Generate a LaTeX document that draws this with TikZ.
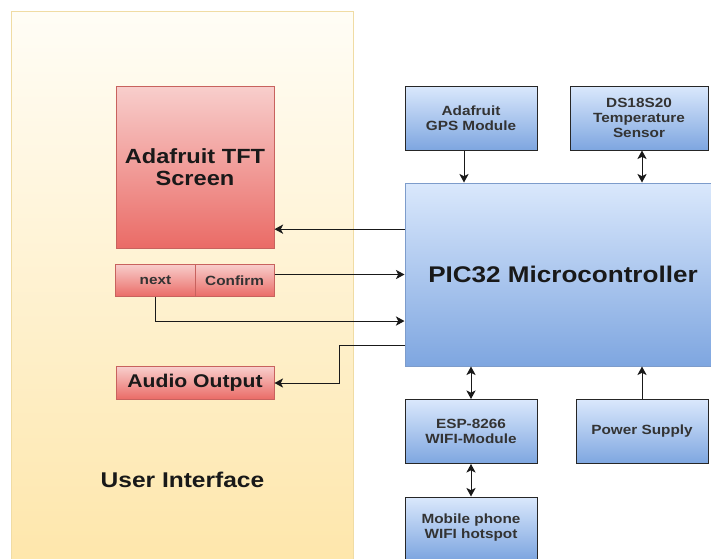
\documentclass[tikz,border=0pt]{standalone}
\usepackage{fontspec}
\setmainfont[FakeStretch=1.15]{Liberation Sans}
\usetikzlibrary{arrows.meta}
\definecolor{uitop}{HTML}{FFFDF6}
\definecolor{uibot}{HTML}{FEE6AA}
\definecolor{uiline}{HTML}{F0DCA4}
\definecolor{redtop}{HTML}{F8CECC}
\definecolor{redbot}{HTML}{EA6B66}
\definecolor{redline}{HTML}{C8625E}
\definecolor{bluetop}{HTML}{DAE8FC}
\definecolor{bluebot}{HTML}{7EA6E0}
\definecolor{blueline}{HTML}{7D9CCB}
\definecolor{txtgray}{HTML}{333333}

\begin{document}
\begin{tikzpicture}[x=0.75pt,y=-0.75pt,
  panel/.style={draw=uiline,line width=0.75pt,top color=uitop,bottom color=uibot,inner sep=0pt},
  redbox/.style={draw=redline,line width=0.75pt,top color=redtop,bottom color=redbot,inner sep=0pt,align=center},
  bluebox/.style={draw=black!85,line width=0.75pt,top color=bluetop,bottom color=bluebot,inner sep=0pt,align=center,
    minimum width=99pt,minimum height=48pt,text=txtgray,font=\fontsize{10}{11.3}\selectfont\bfseries},
  smalltxt/.style={text=txtgray,font=\fontsize{10}{11.3}\selectfont\bfseries},
  link/.style={draw=black!90,line width=0.75pt,-{Stealth[length=6.5pt,width=7pt,inset=1.8pt]}},
  bilink/.style={draw=black!90,line width=0.75pt,{Stealth[length=6.5pt,width=7pt,inset=1.8pt]}-{Stealth[length=6.5pt,width=7pt,inset=1.8pt]}}]

        \useasboundingbox (0,0) rectangle (711,558);

        \node[panel,minimum width=256.5pt,minimum height=420pt,anchor=north west] (ui) at (10.5,10.5) {};
        \node[font=\fontsize{16}{18}\selectfont\bfseries,text=black!90] (uitext) at (182.5,480) {User Interface};

        \node[redbox,minimum width=118.5pt,minimum height=121.5pt,font=\fontsize{15.4}{17}\selectfont\bfseries,text=black!90] (tft) at (195,167) {Adafruit TFT\\Screen};
        \node[redbox,smalltxt,minimum width=59.5pt,minimum height=24.5pt] (next) at (155.4,280.4) {next};
        \node[redbox,smalltxt,minimum width=59.25pt,minimum height=24.5pt] (confirm) at (234.6,280.4) {Confirm};
        \node[redbox,minimum width=118.5pt,minimum height=24.5pt,font=\fontsize{13.8}{16}\selectfont\bfseries,text=black!90] (audio) at (195,383) {Audio Output};

        \node[bluebox] (gps) at (471,118) {Adafruit\\GPS Module};
        \node[bluebox,minimum width=103.5pt] (ds) at (639,118) {DS18S20\\Temperature\\Sensor};
        \node[draw=blueline,line width=0.75pt,top color=bluetop,bottom color=bluebot,inner sep=0pt,
          minimum width=237pt,minimum height=137.25pt,font=\fontsize{17}{19}\selectfont\bfseries,text=black!90] (pic) at (563,274.5) {PIC32 Microcontroller};
        \node[bluebox] (esp) at (471,431.5) {ESP-8266\\WIFI-Module};
        \node[bluebox] (pwr) at (642,431.5) {Power Supply};
        \node[bluebox,minimum height=46.5pt] (phone) at (471,528) {Mobile phone\\WIFI hotspot};

        \draw[link] ([yshift=34pt]pic.west) -- ([yshift=34pt]pic.west -| tft.east);
        \draw[link] (confirm.east |- pic.west) -- (pic.west);
        \draw[link] (next.south) |- ([yshift=-34.9pt]pic.west);
        \draw[link] ([yshift=-53.1pt]pic.west) -| ([xshift=49pt]audio.east) -- (audio.east);
        \draw[link] ([xshift=-5.25pt]gps.south) -- ([xshift=-5.25pt]gps.south |- pic.north);
        \draw[bilink] (ds.south -| pwr.north) -- (pic.north -| pwr.north);
        \draw[bilink] (pic.south -| esp.north) -- (esp.north);
        \draw[link] (pwr.north) -- (pic.south -| pwr.north);
        \draw[bilink] (esp.south) -- (phone.north);

      \end{tikzpicture}
\end{document}
